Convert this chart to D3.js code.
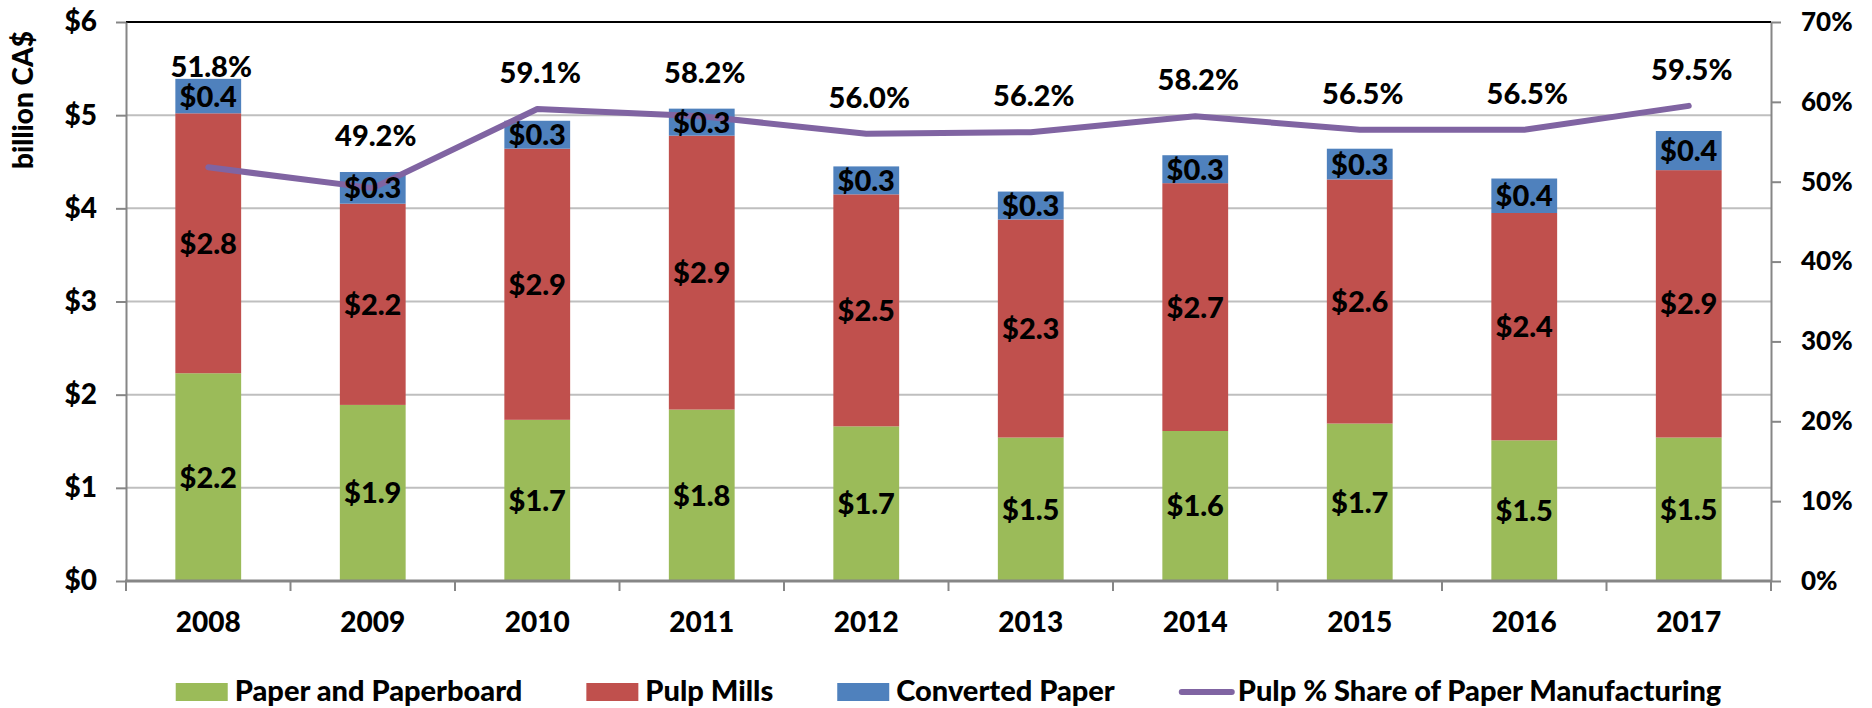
<!DOCTYPE html>
<html>
<head>
<meta charset="utf-8">
<script src="https://cdn.jsdelivr.net/npm/d3@7"></script>
<style>
    body { margin: 0; background: #fff; }
    svg { display: block; font-family: Lato, 'Open Sans', sans-serif; font-weight: 900; }
</style>
</head>
<body>
<div class="graph"></div>
<script>
var years = ['2008', '2009', '2010', '2011', '2012', '2013', '2014', '2015', '2016', '2017'];
var paperboard = [2.23, 1.89, 1.73, 1.84, 1.66, 1.54, 1.61, 1.69, 1.51, 1.54];
var pulpMills = [2.79, 2.16, 2.91, 2.94, 2.49, 2.34, 2.66, 2.62, 2.44, 2.87];
var converted = [0.37, 0.34, 0.30, 0.29, 0.30, 0.30, 0.30, 0.33, 0.37, 0.42];
var pulpShare = [51.8, 49.2, 59.1, 58.2, 56.0, 56.2, 58.2, 56.5, 56.5, 59.5];
var yTicks = [0, 1, 2, 3, 4, 5, 6];
var pctTicks = [0, 10, 20, 30, 40, 50, 60, 70];
var seriesNames = ['Paper and Paperboard', 'Pulp Mills', 'Converted Paper'];
var lineName = 'Pulp % Share of Paper Manufacturing';
var colors = ['#9BBB59', '#C0504D', '#4F81BD'];
var lineColor = '#8064A2';

var graphWidth = 1872, graphHeight = 708;
var plotLeft = 126, plotRight = 1771, plotTop = 22, plotBottom = 581;

var svg = d3.select('.graph')
    .append('svg')
    .attr('width', graphWidth)
    .attr('height', graphHeight);

var rows = years.map(function (y, i) {
    return { year: y, p0: paperboard[i], p1: pulpMills[i], p2: converted[i] };
});
var stacked = d3.stack().keys(['p0', 'p1', 'p2'])(rows);

var xScale = d3.scaleBand()
    .domain(years)
    .range([plotLeft, plotRight])
    .paddingInner(0.6)
    .paddingOuter(0.3);

var yScale = d3.scaleLinear().domain([0, 6]).range([plotBottom, plotTop]);
var yRight = d3.scaleLinear().domain([0, 70]).range([plotBottom, plotTop]);

function styleAxis(size) {
    return function (g) {
        g.attr('font-family', null).attr('font-size', null);
        g.select('.domain').attr('stroke', '#868686').attr('stroke-width', 2);
        g.selectAll('.tick line').attr('stroke', '#868686').attr('stroke-width', 2);
        g.selectAll('text').attr('font-size', size).attr('fill', '#000');
    };
}

// gridlines
svg.append('g')
    .selectAll('line')
    .data(yTicks.slice(1, -1))
    .enter()
    .append('line')
    .attr('x1', plotLeft)
    .attr('x2', plotRight)
    .attr('y1', function (d) { return yScale(d); })
    .attr('y2', function (d) { return yScale(d); })
    .attr('stroke', '#BFBFBF')
    .attr('stroke-width', 2);

// top border
svg.append('line')
    .attr('x1', plotLeft).attr('x2', plotRight)
    .attr('y1', yScale(6)).attr('y2', yScale(6))
    .attr('stroke', '#000').attr('stroke-width', 2);

// bars
svg.append('g')
    .selectAll('g')
    .data(stacked)
    .enter()
    .append('g')
    .attr('fill', function (d, i) { return colors[i]; })
    .selectAll('rect')
    .data(function (d) { return d; })
    .enter()
    .append('rect')
    .attr('x', function (d) { return xScale(d.data.year); })
    .attr('width', xScale.bandwidth())
    .attr('y', function (d) { return yScale(d[1]); })
    .attr('height', function (d) { return yScale(d[0]) - yScale(d[1]); });

// axes
var yAxis = d3.axisLeft(yScale)
    .tickValues(yTicks)
    .tickFormat(function (d) { return '$' + d; })
    .tickSize(10)
    .tickSizeOuter(0)
    .tickPadding(19);

svg.append('g')
    .attr('transform', 'translate(' + plotLeft + ',0)')
    .call(yAxis)
    .call(styleAxis(28));

var rAxis = d3.axisRight(yRight)
    .tickValues(pctTicks)
    .tickFormat(function (d) { return d + '%'; })
    .tickSize(10)
    .tickSizeOuter(0)
    .tickPadding(20);

svg.append('g')
    .attr('transform', 'translate(' + plotRight + ',0)')
    .call(rAxis)
    .call(styleAxis(26));

var xAxis = d3.axisBottom(xScale)
    .tickSize(0)
    .tickPadding(31);

svg.append('g')
    .attr('transform', 'translate(0,' + plotBottom + ')')
    .call(xAxis)
    .call(styleAxis(28))
    .call(function (g) { g.select('.domain').remove(); });

// category boundary ticks
var step = xScale.step();
svg.append('g')
    .selectAll('line')
    .data(d3.range(years.length + 1))
    .enter()
    .append('line')
    .attr('x1', function (i) { return plotLeft + i * step; })
    .attr('x2', function (i) { return plotLeft + i * step; })
    .attr('y1', plotBottom)
    .attr('y2', plotBottom + 10)
    .attr('stroke', '#868686')
    .attr('stroke-width', 2);

svg.append('line')
    .attr('x1', plotLeft - 1).attr('x2', plotRight + 1)
    .attr('y1', plotBottom).attr('y2', plotBottom)
    .attr('stroke', '#868686').attr('stroke-width', 3);

// y title
svg.append('text')
    .attr('transform', 'translate(33,100) rotate(-90)')
    .attr('text-anchor', 'middle')
    .attr('font-size', 28)
    .text('billion CA$');

// line
var cx = function (i) { return xScale(years[i]) + xScale.bandwidth() / 2; };
var line = d3.line()
    .x(function (d, i) { return cx(i); })
    .y(function (d) { return yRight(d); });

svg.append('path')
    .datum(pulpShare)
    .attr('d', line)
    .attr('fill', 'none')
    .attr('stroke', lineColor)
    .attr('stroke-width', 6)
    .attr('stroke-linecap', 'round')
    .attr('stroke-linejoin', 'round');

// segment labels
var fmt = function (v) { return '$' + v.toFixed(1); };
stacked.forEach(function (s) {
    svg.append('g')
        .selectAll('text')
        .data(s)
        .enter()
        .append('text')
        .attr('x', function (d) { return xScale(d.data.year) + xScale.bandwidth() / 2; })
        .attr('y', function (d) { return (yScale(d[0]) + yScale(d[1])) / 2; })
        .attr('dy', '0.36em')
        .attr('text-anchor', 'middle')
        .attr('font-size', 29)
        .text(function (d) { return fmt(d[1] - d[0]); });
});

// percent labels, kept above both the line and the bar
svg.append('g')
    .selectAll('text')
    .data(pulpShare)
    .enter()
    .append('text')
    .attr('x', function (d, i) { return cx(i) + 3; })
    .attr('y', function (d, i) {
        var barTop = yScale(stacked[2][i][1]);
        return Math.max(Math.min(yRight(d), barTop) - 26, plotTop + 55);
    })
    .attr('text-anchor', 'middle')
    .attr('font-size', 29)
    .text(function (d) { return d.toFixed(1) + '%'; });

// legend
var legend = svg.append('g');
var items = seriesNames.map(function (n, i) { return { name: n, color: colors[i], type: 'rect' }; })
    .concat([{ name: lineName, color: lineColor, type: 'line' }]);
var lx = 0;
items.forEach(function (it) {
    var g = legend.append('g').attr('transform', 'translate(' + lx + ',0)');
    if (it.type === 'rect') {
        g.append('rect').attr('x', 0).attr('y', 683).attr('width', 52).attr('height', 18).attr('fill', it.color);
    } else {
        g.append('line').attr('x1', 3).attr('x2', 53).attr('y1', 692).attr('y2', 692)
            .attr('stroke', it.color).attr('stroke-width', 6).attr('stroke-linecap', 'round');
    }
    var t = g.append('text').attr('x', 59).attr('y', 701).attr('font-size', 29).text(it.name);
    lx += 59 + t.node().getComputedTextLength() + 64;
});
var legendWidth = lx - 64;
legend.attr('transform', 'translate(' + ((plotLeft + plotRight) / 2 - legendWidth / 2) + ',0)');
</script>
</body>
</html>
